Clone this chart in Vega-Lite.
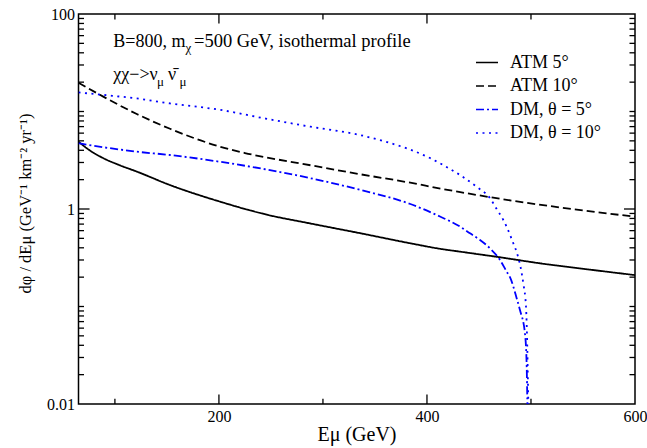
{
  "$schema": "https://vega.github.io/schema/vega-lite/v6.json",
  "width": 556.5,
  "height": 390,
  "autosize": "none",
  "padding": {"left": 78.5, "top": 14, "right": 12, "bottom": 44},
  "background": "white",
  "config": {
    "font": "Liberation Serif",
    "view": {"stroke": "#000", "strokeWidth": 1.5},
    "axis": {"grid": false, "domain": false, "ticks": false, "labelFont": "Liberation Serif", "titleFont": "Liberation Serif", "labelColor": "#000", "titleColor": "#000", "titleFontWeight": "normal", "labelFlush": false}
  },
  "datasets": {
    "curves": [
      {"series": "ATM 5°", "E": 65, "flux": 4.9},
      {"series": "ATM 5°", "E": 75, "flux": 4.05},
      {"series": "ATM 5°", "E": 88.6, "flux": 3.33},
      {"series": "ATM 5°", "E": 105, "flux": 2.8},
      {"series": "ATM 5°", "E": 121, "flux": 2.42},
      {"series": "ATM 5°", "E": 153, "flux": 1.76},
      {"series": "ATM 5°", "E": 201, "flux": 1.19},
      {"series": "ATM 5°", "E": 245, "flux": 0.88},
      {"series": "ATM 5°", "E": 288, "flux": 0.71},
      {"series": "ATM 5°", "E": 336, "flux": 0.564},
      {"series": "ATM 5°", "E": 384, "flux": 0.445},
      {"series": "ATM 5°", "E": 413, "flux": 0.39},
      {"series": "ATM 5°", "E": 432, "flux": 0.365},
      {"series": "ATM 5°", "E": 470, "flux": 0.32},
      {"series": "ATM 5°", "E": 509, "flux": 0.277},
      {"series": "ATM 5°", "E": 555, "flux": 0.24},
      {"series": "ATM 5°", "E": 600, "flux": 0.21},
      {"series": "ATM 10°", "E": 65, "flux": 19.7},
      {"series": "ATM 10°", "E": 88.8, "flux": 14.2},
      {"series": "ATM 10°", "E": 121, "flux": 9.43},
      {"series": "ATM 10°", "E": 153, "flux": 6.65},
      {"series": "ATM 10°", "E": 201, "flux": 4.36},
      {"series": "ATM 10°", "E": 225, "flux": 3.75},
      {"series": "ATM 10°", "E": 249, "flux": 3.33},
      {"series": "ATM 10°", "E": 288, "flux": 2.81},
      {"series": "ATM 10°", "E": 336, "flux": 2.27},
      {"series": "ATM 10°", "E": 384, "flux": 1.86},
      {"series": "ATM 10°", "E": 413, "flux": 1.62},
      {"series": "ATM 10°", "E": 432, "flux": 1.49},
      {"series": "ATM 10°", "E": 461, "flux": 1.32},
      {"series": "ATM 10°", "E": 530, "flux": 1.03},
      {"series": "ATM 10°", "E": 600, "flux": 0.834},
      {"series": "DM, θ = 5°", "E": 65, "flux": 4.72},
      {"series": "DM, θ = 5°", "E": 89, "flux": 4.3},
      {"series": "DM, θ = 5°", "E": 121, "flux": 3.87},
      {"series": "DM, θ = 5°", "E": 153, "flux": 3.58},
      {"series": "DM, θ = 5°", "E": 201, "flux": 3.05},
      {"series": "DM, θ = 5°", "E": 245, "flux": 2.55},
      {"series": "DM, θ = 5°", "E": 288, "flux": 2.07},
      {"series": "DM, θ = 5°", "E": 336, "flux": 1.57},
      {"series": "DM, θ = 5°", "E": 384, "flux": 1.125},
      {"series": "DM, θ = 5°", "E": 412.5, "flux": 0.837},
      {"series": "DM, θ = 5°", "E": 432, "flux": 0.658},
      {"series": "DM, θ = 5°", "E": 441.4, "flux": 0.563},
      {"series": "DM, θ = 5°", "E": 451, "flux": 0.481},
      {"series": "DM, θ = 5°", "E": 460.6, "flux": 0.395},
      {"series": "DM, θ = 5°", "E": 470.2, "flux": 0.3},
      {"series": "DM, θ = 5°", "E": 476.6, "flux": 0.228},
      {"series": "DM, θ = 5°", "E": 479.8, "flux": 0.2},
      {"series": "DM, θ = 5°", "E": 486.3, "flux": 0.121},
      {"series": "DM, θ = 5°", "E": 489.4, "flux": 0.092},
      {"series": "DM, θ = 5°", "E": 494.2, "flux": 0.053},
      {"series": "DM, θ = 5°", "E": 495.9, "flux": 0.024},
      {"series": "DM, θ = 5°", "E": 496.5, "flux": 0.011},
      {"series": "DM, θ = 5°", "E": 496.6, "flux": 0.01},
      {"series": "DM, θ = 10°", "E": 65, "flux": 15.7},
      {"series": "DM, θ = 10°", "E": 89, "flux": 14.8},
      {"series": "DM, θ = 10°", "E": 121, "flux": 13.6},
      {"series": "DM, θ = 10°", "E": 153, "flux": 12.1},
      {"series": "DM, θ = 10°", "E": 201, "flux": 10.4},
      {"series": "DM, θ = 10°", "E": 245, "flux": 8.45},
      {"series": "DM, θ = 10°", "E": 288, "flux": 6.98},
      {"series": "DM, θ = 10°", "E": 335.6, "flux": 5.74},
      {"series": "DM, θ = 10°", "E": 359.7, "flux": 4.92},
      {"series": "DM, θ = 10°", "E": 383.7, "flux": 4.07},
      {"series": "DM, θ = 10°", "E": 402.9, "flux": 3.33},
      {"series": "DM, θ = 10°", "E": 415.4, "flux": 2.83},
      {"series": "DM, θ = 10°", "E": 431.8, "flux": 2.23},
      {"series": "DM, θ = 10°", "E": 448.1, "flux": 1.68},
      {"series": "DM, θ = 10°", "E": 460.6, "flux": 1.29},
      {"series": "DM, θ = 10°", "E": 467, "flux": 1.0},
      {"series": "DM, θ = 10°", "E": 473.4, "flux": 0.771},
      {"series": "DM, θ = 10°", "E": 476.6, "flux": 0.658},
      {"series": "DM, θ = 10°", "E": 483, "flux": 0.445},
      {"series": "DM, θ = 10°", "E": 486.3, "flux": 0.36},
      {"series": "DM, θ = 10°", "E": 491.1, "flux": 0.219},
      {"series": "DM, θ = 10°", "E": 492.6, "flux": 0.173},
      {"series": "DM, θ = 10°", "E": 495.2, "flux": 0.1},
      {"series": "DM, θ = 10°", "E": 496.5, "flux": 0.036},
      {"series": "DM, θ = 10°", "E": 497.4, "flux": 0.011},
      {"series": "DM, θ = 10°", "E": 497.5, "flux": 0.01}
    ]
  },
  "layer": [
    {
      "data": {"name": "curves"},
      "mark": {"type": "line", "strokeWidth": 1.8, "clip": true, "interpolate": "monotone"},
      "encoding": {
        "x": {"field": "E", "type": "quantitative", "scale": {"domain": [65, 600], "nice": false, "zero": false},
          "axis": {"orient": "bottom", "values": [200, 400, 600], "labelPadding": 4, "labelFontSize": 16, "title": "Eμ (GeV)", "titleFontSize": 20, "titleX": 278, "titleY": 36, "titleBaseline": "alphabetic"}},
        "y": {"field": "flux", "type": "quantitative", "scale": {"type": "log", "domain": [0.01, 100], "nice": false},
          "axis": {"orient": "left", "values": [0.01, 1, 100], "labelPadding": 4, "labelFontSize": 16, "labelExpr": "format(datum.value, '~g')", "title": "dφ / dEμ (GeV⁻¹ km⁻² yr⁻¹)", "titleFontSize": 16.5, "titleX": -53.5, "titleY": 189, "titleBaseline": "middle"}},
        "color": {"field": "series", "type": "nominal",
          "scale": {"domain": ["ATM 5°", "ATM 10°", "DM, θ = 5°", "DM, θ = 10°"], "range": ["#000000", "#000000", "#0000ff", "#0000ff"]},
          "legend": {"title": null, "orient": "none", "legendX": 396.5, "legendY": 36.5, "symbolType": "stroke", "symbolSize": 484, "symbolStrokeWidth": 1.6, "labelFontSize": 18, "labelFont": "Liberation Serif", "labelColor": "#000", "labelOffset": 11, "rowPadding": 2.5, "padding": 0}},
        "strokeDash": {"field": "series", "type": "nominal",
          "scale": {"domain": ["ATM 5°", "ATM 10°", "DM, θ = 5°", "DM, θ = 10°"], "range": [[1, 0], [8, 4], [8, 3, 2, 3], [2, 4.5]]},
          "legend": {"title": null, "orient": "none", "legendX": 396.5, "legendY": 36.5, "symbolType": "stroke", "symbolSize": 484, "symbolStrokeWidth": 1.6, "labelFontSize": 18, "labelFont": "Liberation Serif", "labelColor": "#000", "labelOffset": 11, "rowPadding": 2.5, "padding": 0}}
      }
    },
    {
      "data": {"values": [{"E": 200}, {"E": 400}]},
      "mark": {"type": "rule", "stroke": "#000", "strokeWidth": 1.3, "opacity": 1},
      "encoding": {
        "x": {"field": "E", "type": "quantitative", "axis": null},
        "y": {"datum": 0.01, "type": "quantitative", "axis": null},
        "y2": {"datum": 0.0125}
      }
    },
    {
      "data": {"values": [{"E": 100}, {"E": 300}, {"E": 500}]},
      "mark": {"type": "rule", "stroke": "#000", "strokeWidth": 1.3, "opacity": 1},
      "encoding": {
        "x": {"field": "E", "type": "quantitative", "axis": null},
        "y": {"datum": 0.01, "type": "quantitative", "axis": null},
        "y2": {"datum": 0.0113}
      }
    },
    {
      "data": {"values": [{"E": 200}, {"E": 400}]},
      "mark": {"type": "rule", "stroke": "#000", "strokeWidth": 1.3, "opacity": 1},
      "encoding": {
        "x": {"field": "E", "type": "quantitative", "axis": null},
        "y": {"datum": 100, "type": "quantitative", "axis": null},
        "y2": {"datum": 80}
      }
    },
    {
      "data": {"values": [{"E": 100}, {"E": 300}, {"E": 500}]},
      "mark": {"type": "rule", "stroke": "#000", "strokeWidth": 1.3, "opacity": 1},
      "encoding": {
        "x": {"field": "E", "type": "quantitative", "axis": null},
        "y": {"datum": 100, "type": "quantitative", "axis": null},
        "y2": {"datum": 88}
      }
    },
    {
      "data": {"values": [{"flux": 1}]},
      "mark": {"type": "rule", "stroke": "#000", "strokeWidth": 1.3, "opacity": 1},
      "encoding": {
        "y": {"field": "flux", "type": "quantitative", "axis": null},
        "x": {"datum": 65, "type": "quantitative", "axis": null},
        "x2": {"datum": 75.6}
      }
    },
    {
      "data": {"values": [{"flux": 0.02}, {"flux": 0.03}, {"flux": 0.04}, {"flux": 0.05}, {"flux": 0.06}, {"flux": 0.07}, {"flux": 0.08}, {"flux": 0.09}, {"flux": 0.1}, {"flux": 0.2}, {"flux": 0.3}, {"flux": 0.4}, {"flux": 0.5}, {"flux": 0.6}, {"flux": 0.7}, {"flux": 0.8}, {"flux": 0.9}, {"flux": 2}, {"flux": 3}, {"flux": 4}, {"flux": 5}, {"flux": 6}, {"flux": 7}, {"flux": 8}, {"flux": 9}, {"flux": 10}, {"flux": 20}, {"flux": 30}, {"flux": 40}, {"flux": 50}, {"flux": 60}, {"flux": 70}, {"flux": 80}, {"flux": 90}]},
      "mark": {"type": "rule", "stroke": "#000", "strokeWidth": 1.3, "opacity": 1},
      "encoding": {
        "y": {"field": "flux", "type": "quantitative", "axis": null},
        "x": {"datum": 65, "type": "quantitative", "axis": null},
        "x2": {"datum": 70.3}
      }
    },
    {
      "data": {"values": [{"flux": 1}]},
      "mark": {"type": "rule", "stroke": "#000", "strokeWidth": 1.3, "opacity": 1},
      "encoding": {
        "y": {"field": "flux", "type": "quantitative", "axis": null},
        "x": {"datum": 600, "type": "quantitative", "axis": null},
        "x2": {"datum": 589.4}
      }
    },
    {
      "data": {"values": [{"flux": 0.02}, {"flux": 0.03}, {"flux": 0.04}, {"flux": 0.05}, {"flux": 0.06}, {"flux": 0.07}, {"flux": 0.08}, {"flux": 0.09}, {"flux": 0.1}, {"flux": 0.2}, {"flux": 0.3}, {"flux": 0.4}, {"flux": 0.5}, {"flux": 0.6}, {"flux": 0.7}, {"flux": 0.8}, {"flux": 0.9}, {"flux": 2}, {"flux": 3}, {"flux": 4}, {"flux": 5}, {"flux": 6}, {"flux": 7}, {"flux": 8}, {"flux": 9}, {"flux": 10}, {"flux": 20}, {"flux": 30}, {"flux": 40}, {"flux": 50}, {"flux": 60}, {"flux": 70}, {"flux": 80}, {"flux": 90}]},
      "mark": {"type": "rule", "stroke": "#000", "strokeWidth": 1.3, "opacity": 1},
      "encoding": {
        "y": {"field": "flux", "type": "quantitative", "axis": null},
        "x": {"datum": 600, "type": "quantitative", "axis": null},
        "x2": {"datum": 594.7}
      }
    },
    {
      "data": {"values": [{}]},
      "mark": {"type": "text", "align": "left", "baseline": "alphabetic", "fontSize": 18, "font": "Liberation Serif", "color": "#000"},
      "encoding": {"text": {"value": "B=800, m"}, "x": {"datum": 98.45, "type": "quantitative", "axis": null}, "y": {"datum": 46.2, "type": "quantitative", "axis": null}}
    },
    {
      "data": {"values": [{}]},
      "mark": {"type": "text", "align": "left", "baseline": "alphabetic", "fontSize": 13, "font": "Liberation Serif", "color": "#000"},
      "encoding": {"text": {"value": "χ"}, "x": {"datum": 167.9, "type": "quantitative", "axis": null}, "y": {"datum": 40.7, "type": "quantitative", "axis": null}}
    },
    {
      "data": {"values": [{}]},
      "mark": {"type": "text", "align": "left", "baseline": "alphabetic", "fontSize": 18.5, "font": "Liberation Serif", "color": "#000"},
      "encoding": {"text": {"value": "=500 GeV, isothermal profile"}, "x": {"datum": 176.0, "type": "quantitative", "axis": null}, "y": {"datum": 46.2, "type": "quantitative", "axis": null}}
    },
    {
      "data": {"values": [{}]},
      "mark": {"type": "text", "align": "left", "baseline": "alphabetic", "fontSize": 18, "font": "Liberation Serif", "color": "#000"},
      "encoding": {"text": {"value": "χχ−>ν"}, "x": {"datum": 98.45, "type": "quantitative", "axis": null}, "y": {"datum": 21.0, "type": "quantitative", "axis": null}}
    },
    {
      "data": {"values": [{}]},
      "mark": {"type": "text", "align": "left", "baseline": "alphabetic", "fontSize": 13, "font": "Liberation Serif", "color": "#000"},
      "encoding": {"text": {"value": "μ"}, "x": {"datum": 140.5, "type": "quantitative", "axis": null}, "y": {"datum": 18.26, "type": "quantitative", "axis": null}}
    },
    {
      "data": {"values": [{}]},
      "mark": {"type": "text", "align": "left", "baseline": "alphabetic", "fontSize": 18, "font": "Liberation Serif", "color": "#000"},
      "encoding": {"text": {"value": "ν̄"}, "x": {"datum": 151.0, "type": "quantitative", "axis": null}, "y": {"datum": 21.0, "type": "quantitative", "axis": null}}
    },
    {
      "data": {"values": [{}]},
      "mark": {"type": "text", "align": "left", "baseline": "alphabetic", "fontSize": 13, "font": "Liberation Serif", "color": "#000"},
      "encoding": {"text": {"value": "μ"}, "x": {"datum": 162.1, "type": "quantitative", "axis": null}, "y": {"datum": 18.26, "type": "quantitative", "axis": null}}
    }
  ],
  "resolve": {"axis": {"x": "independent", "y": "independent"}}
}
